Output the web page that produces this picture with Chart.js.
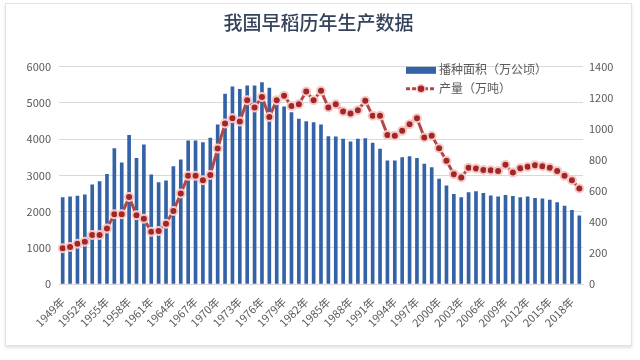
<!DOCTYPE html>
<html>
<head>
<meta charset="utf-8">
<script src="https://cdn.jsdelivr.net/npm/chart.js@4"></script>
<style>
  html, body { margin: 0; padding: 0; background: #fff; }
  #card {
    position: absolute; left: 5px; top: 3px; width: 625px; height: 341px;
    border: 1px solid #e2e2e2; box-shadow: 0 2px 3px rgba(0,0,0,0.12); background: #fff;
  }
  canvas { display: block; }
</style>
</head>
<body>
<div id="card"><canvas id="riceChart" width="625" height="341"></canvas></div>
<script>
const years = [
    1949, 1950, 1951, 1952, 1953, 1954, 1955, 1956, 1957, 1958,
    1959, 1960, 1961, 1962, 1963, 1964, 1965, 1966, 1967, 1968,
    1969, 1970, 1971, 1972, 1973, 1974, 1975, 1976, 1977, 1978,
    1979, 1980, 1981, 1982, 1983, 1984, 1985, 1986, 1987, 1988,
    1989, 1990, 1991, 1992, 1993, 1994, 1995, 1996, 1997, 1998,
    1999, 2000, 2001, 2002, 2003, 2004, 2005, 2006, 2007, 2008,
    2009, 2010, 2011, 2012, 2013, 2014, 2015, 2016, 2017, 2018,
    2019,
];

// 播种面积（万公顷）
const sownArea = [
    2390, 2405, 2430, 2460, 2740, 2830, 3030, 3740, 3350, 4110,
    3475, 3845, 3015, 2800, 2850, 3245, 3430, 3955, 3955, 3905,
    4030, 4395, 5245, 5445, 5380, 5475, 5475, 5565, 5410, 5080,
    4895, 4735, 4555, 4490, 4460, 4395, 4075, 4065, 4000, 3925,
    4000, 4020, 3890, 3725, 3400, 3400, 3490, 3520, 3475, 3310,
    3215, 2895, 2710, 2480, 2385, 2525, 2550, 2505, 2435, 2405,
    2450, 2425, 2385, 2405, 2370, 2350, 2315, 2250, 2155, 2035,
    1880,
];

// 产量（万吨）
const output = [
    230, 239, 260, 273, 316, 316, 357, 450, 450, 561,
    443, 421, 336, 342, 389, 471, 583, 697, 697, 669,
    703, 873, 1034, 1069, 1047, 1185, 1138, 1206, 1077, 1185,
    1213, 1148, 1159, 1241, 1185, 1245, 1138, 1159, 1112, 1099,
    1120, 1181, 1084, 1084, 961, 955, 987, 1030, 1069, 944,
    955, 875, 794, 708, 686, 750, 744, 735, 733, 729,
    768, 718, 746, 755, 766, 759, 750, 729, 697, 669,
    615,
];

const leftTicks = [0, 1000, 2000, 3000, 4000, 5000, 6000];
const rightTicks = [0, 200, 400, 600, 800, 1000, 1200, 1400];

const labels = years.map((y) => y + "年");
const fontFamily = "'Noto Sans CJK SC', 'Noto Sans', sans-serif";
const tickColor = "#595959";

// legend drawn in the top right corner of the plot area, stacked vertically
const cornerLegend = {
    id: "cornerLegend",
    afterDraw(chart) {
        const { ctx, chartArea } = chart;
        const x = chartArea.left + 347;
        let y = chartArea.top + 3;
        ctx.save();
        ctx.font = "12px " + fontFamily;
        ctx.textBaseline = "middle";
        chart.data.datasets.forEach((ds) => {
            if (ds.type === "bar") {
                ctx.fillStyle = ds.backgroundColor;
                ctx.fillRect(x, y - 3, 30, 7);
            } else {
                ctx.strokeStyle = ds.borderColor;
                ctx.lineWidth = 3;
                ctx.setLineDash([4, 2]);
                ctx.beginPath();
                ctx.moveTo(x, y);
                ctx.lineTo(x + 30, y);
                ctx.stroke();
                ctx.setLineDash([]);
                ctx.beginPath();
                ctx.arc(x + 15, y, 4, 0, Math.PI * 2);
                ctx.fillStyle = ds.pointBackgroundColor;
                ctx.fill();
                ctx.lineWidth = 1.5;
                ctx.strokeStyle = ds.pointBorderColor;
                ctx.stroke();
            }
            ctx.fillStyle = tickColor;
            ctx.fillText(ds.label, x + 33, y);
            y += 19;
        });
        ctx.restore();
    },
};

new Chart(document.getElementById("riceChart"), {
    data: {
        labels: labels,
        datasets: [
            {
                type: "bar",
                label: "播种面积（万公顷）",
                data: sownArea,
                yAxisID: "y",
                order: 1,
                backgroundColor: "#3462a6",
                barThickness: 3,
            },
            {
                type: "line",
                label: "产量（万吨）",
                data: output,
                yAxisID: "y1",
                order: 0,
                borderColor: "#b24848",
                borderWidth: 3,
                pointRadius: 4,
                pointBackgroundColor: "#a32626",
                pointBorderColor: "#f6c9c9",
                pointBorderWidth: 2,
                tension: 0,
            },
        ],
    },
    options: {
        responsive: false,
        animation: false,
        layout: { padding: { top: 0, left: 0, right: 0, bottom: 0 } },
        plugins: {
            legend: { display: false },
            tooltip: { enabled: false },
            title: {
                display: true,
                text: "我国早稻历年生产数据",
                color: "#34435a",
                font: { family: fontFamily, size: 19, weight: "500" },
                padding: { top: 7, bottom: 33 },
            },
        },
        scales: {
            x: {
                grid: { display: false },
                border: { color: "#d9d9d9" },
                afterFit: (s) => { s.height = 61; },
                ticks: {
                    autoSkip: false,
                    maxRotation: 45,
                    minRotation: 45,
                    padding: 3,
                    color: tickColor,
                    font: { family: fontFamily, size: 11 },
                    callback: (v, i) => (i % 3 === 0 ? labels[i] : ""),
                },
            },
            y: {
                position: "left",
                min: 0,
                max: 6000,
                afterFit: (s) => { s.width = 53; },
                afterBuildTicks: (s) => { s.ticks = leftTicks.map((v) => ({ value: v })); },
                grid: { color: "#d9d9d9", drawTicks: false },
                border: { display: false },
                ticks: {
                    padding: 8,
                    color: tickColor,
                    font: { family: fontFamily, size: 11 },
                    callback: (v) => String(v),
                },
            },
            y1: {
                position: "right",
                min: 0,
                max: 1400,
                afterFit: (s) => { s.width = 48; },
                afterBuildTicks: (s) => { s.ticks = rightTicks.map((v) => ({ value: v })); },
                grid: { display: false, drawTicks: false },
                border: { display: false },
                ticks: {
                    padding: 6,
                    color: tickColor,
                    font: { family: fontFamily, size: 11 },
                    callback: (v) => String(v),
                },
            },
        },
    },
    plugins: [cornerLegend],
});
</script>
</body>
</html>
